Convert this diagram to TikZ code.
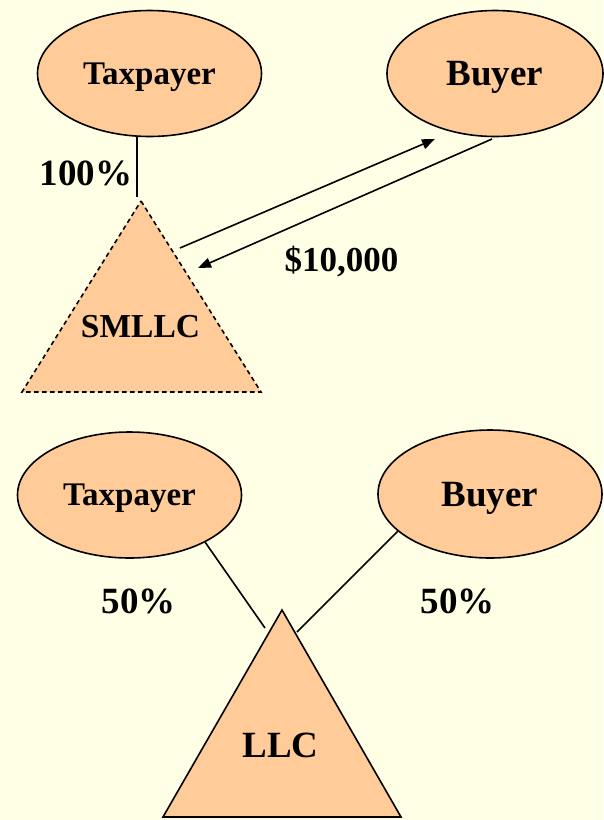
\documentclass[tikz,border=0pt]{standalone}
\usepackage{fontspec}
\setmainfont{Liberation Serif}
\usetikzlibrary{shapes.geometric,arrows.meta}
\definecolor{paper}{RGB}{255,255,229}
\definecolor{peach}{RGB}{255,204,153}
\tikzset{
  party/.style={ellipse, draw=black, line width=1.6pt, fill=peach, inner sep=0pt,
    text depth=0pt},
  small/.style={font=\bfseries\fontsize{33}{33}\selectfont, text height=21.8pt},
  large/.style={font=\bfseries\fontsize{37}{37}\selectfont, text height=24.5pt},
  entity/.style={fill=peach, draw=black, line width=1.6pt, line join=miter},
  tag/.style={anchor=base, font=\bfseries, inner sep=0pt},
  link/.style={draw=black, line width=1.6pt},
  flow/.style={link, -{Triangle[length=13pt,width=10pt]}},
}
\begin{document}
\begin{tikzpicture}[x=1pt,y=-1pt]
  \fill[paper] (0,0) rectangle (603,820);
  \useasboundingbox (0,0) rectangle (603,820);

  % --- upper structure: taxpayer owns a single-member LLC ---
  \node[party, small, minimum width=224, minimum height=126] (tp1) at (149.5,73.5) {Taxpayer};
  \node[party, large, minimum width=216, minimum height=126] (by1) at (495,73.5) {Buyer};

  \coordinate (s1top) at (141,201);
  \coordinate (s1l) at (22,392);
  \coordinate (s1r) at (261,392);
  \draw[entity, dash pattern=on 4.5pt off 3.5pt] (s1top) -- (s1r) -- (s1l) -- cycle;
  \node[tag, font=\bfseries\fontsize{33.5}{33.5}\selectfont] (s1txt) at (140.5,337) {SMLLC};

  \coordinate (own1) at (137,197);
  \draw[link] (tp1.south -| own1) -- (own1);
  \node[tag, font=\bfseries\fontsize{37}{37}\selectfont] (p100) at (86,185) {100\%};

  \coordinate (outA) at (180,248);
  \coordinate (outB) at (435,139);
  \coordinate (inA) at (492,139);
  \coordinate (inB) at (198,268);
  \draw[flow] (outA) -- (outB);
  \draw[flow] (inA) -- (inB);
  \node[tag, font=\bfseries\fontsize{35}{35}\selectfont] (amt) at (341.5,271) {\$10,000};

  % --- lower structure: jointly owned LLC ---
  \node[party, small, minimum width=224, minimum height=126] (tp2) at (129.5,495) {Taxpayer};
  \node[party, large, minimum width=224, minimum height=128] (by2) at (490,494) {Buyer};

  \coordinate (s2top) at (282,610);
  \coordinate (s2l) at (163,817);
  \coordinate (s2r) at (401,817);
  \draw[entity] (s2top) -- (s2r) -- (s2l) -- cycle;
  \node[tag, font=\bfseries\fontsize{37}{37}\selectfont] (s2txt) at (280.5,757) {LLC};

  \coordinate (jl) at (265,628);
  \coordinate (jr) at (297,632);
  \draw[link] (tp2.-32) -- (jl);
  \draw[link] (by2.202) -- (jr);
  \node[tag, font=\bfseries\fontsize{37}{37}\selectfont] (p50a) at (138.5,613) {50\%};
  \node[tag, font=\bfseries\fontsize{37}{37}\selectfont] (p50b) at (457.5,613) {50\%};
\end{tikzpicture}
\end{document}
